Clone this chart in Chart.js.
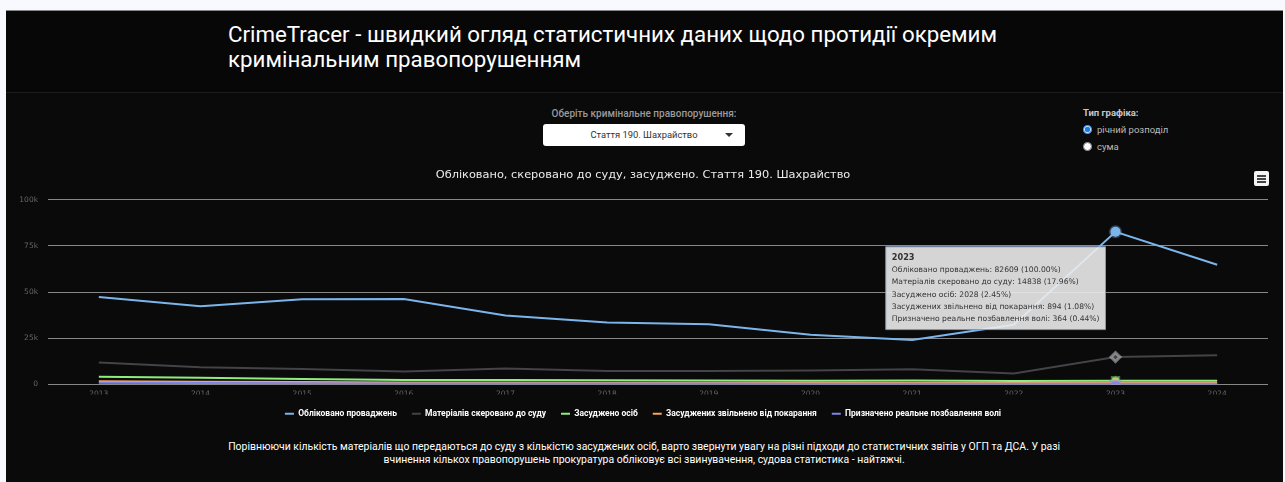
<!DOCTYPE html>
<html lang="uk">
<head>
<meta charset="utf-8">
<title>CrimeTracer</title>
<script src="https://cdn.jsdelivr.net/npm/chart.js@4.4.1/dist/chart.umd.min.js"></script>
<style>
    html, body { margin: 0; padding: 0; }
    body {
        width: 1285px; height: 482px; overflow: hidden;
        background: #f8f8ff; position: relative;
        font-family: Roboto, "Noto Sans", sans-serif;
    }
    .page {
        position: absolute; left: 6px; top: 10px; right: 2px; bottom: 0;
        background: #0a0a0a; border-top: 1px solid #888;
    }
    .header {
        position: absolute; left: 0; top: 0; right: 0; height: 81px;
        background: #070707; border-bottom: 1px solid #1c1c1c;
    }
    .header h1 {
        position: absolute; left: 222px; top: 11px; margin: 0;
        font-weight: 400; font-size: 22.3px; line-height: 25px; color: #fff;
        white-space: nowrap;
    }
    .select-block {
        position: absolute; left: 537px; top: 97px; width: 202px; text-align: center;
    }
    .select-block .lbl {
        font-size: 10px; font-weight: 500; color: #9a9a9a; white-space: nowrap;
    }
    .select-box {
        margin-top: 5px; height: 22px; background: #fff; border-radius: 3px;
        font-size: 9.4px; color: #333; line-height: 22px; position: relative;
    }
    .select-box .caret {
        position: absolute; right: 12px; top: 9px; width: 0; height: 0;
        border-left: 4px solid transparent; border-right: 4px solid transparent;
        border-top: 4px solid #333;
    }
    .radio-block {
        position: absolute; left: 1077px; top: 96px; font-size: 9.5px; color: #bbb;
    }
    .radio-block .ttl { font-weight: 700; color: #c8c8c8; margin-bottom: 3px; }
    .radio-block label { display: flex; align-items: center; height: 17px; }
    .radio-block input {
        margin: 0 5px 0 0; width: 9px; height: 9px; accent-color: #1a7fe6;
    }
    .menu-btn {
        position: absolute; left: 1248px; top: 160px; width: 15px; height: 15px;
        background: #f4f4f4; border-radius: 2px;
    }
    .menu-btn i {
        position: absolute; left: 3px; right: 3px; height: 1.5px; background: #444;
    }
    .chart-wrap {
        position: absolute; left: 0; top: 152px; width: 1274px; height: 265px;
    }
    .note {
        position: absolute; left: 0; right: 0; top: 429px; text-align: center;
    }
    .note span {
        display: inline-block; transform: scaleX(0.908); transform-origin: center top;
        font-size: 11.5px; line-height: 13px; color: #fff; white-space: nowrap;
    }
</style>
</head>
<body>
<div class="page">
    <div class="header">
        <h1>CrimeTracer - швидкий огляд статистичних даних щодо протидії окремим<br>кримінальним правопорушенням</h1>
    </div>

    <div class="select-block">
        <div class="lbl">Оберіть кримінальне правопорушення:</div>
        <div class="select-box">Стаття 190. Шахрайство<span class="caret"></span></div>
    </div>

    <div class="radio-block">
        <div class="ttl">Тип графіка:</div>
        <label><input type="radio" name="t" checked>річний розподіл</label>
        <label><input type="radio" name="t">сума</label>
    </div>

    <div class="chart-wrap"><canvas id="crimeChart"></canvas></div>
    <div class="menu-btn"><i style="top:4px"></i><i style="top:7px"></i><i style="top:10px"></i></div>

    <div class="note"><span>Порівнюючи кількість матеріалів що передаються до суду з кількістю засуджених осіб, варто звернути увагу на різні підходи до статистичних звітів у ОГП та ДСА. У разі<br>вчинення кількох правопорушень прокуратура обліковує всі звинувачення, судова статистика - найтяжчі.</span></div>
</div>

<script>
// Дані графіка
const years = [2013, 2014, 2015, 2016, 2017, 2018, 2019, 2020, 2021, 2022, 2023, 2024];
const seriesNames = [
    'Обліковано проваджень',
    'Матеріалів скеровано до суду',
    'Засуджено осіб',
    'Засуджених звільнено від покарання',
    'Призначено реальне позбавлення волі'
];
const registered = [47300, 42300, 46100, 46200, 37300, 33600, 32600, 26900, 24100, 32300, 82609, 64800];
const sentToCourt = [11900, 9300, 8400, 7000, 8700, 7300, 7300, 7600, 8200, 6000, 14838, 15800];
const convicted = [4200, 3700, 3000, 2500, 2400, 2300, 2200, 2000, 2100, 1900, 2028, 2000];
const released = [1700, 1500, 1300, 1100, 1050, 1000, 950, 900, 950, 850, 894, 900];
const imprisoned = [900, 800, 700, 600, 550, 500, 480, 420, 400, 380, 364, 380];
const yTicks = [0, 25000, 50000, 75000, 100000];
const hoverYear = 2023;

const colors = ['#7cb5ec', '#434348', '#90ed7d', '#f7a35c', '#8085e9'];
const halos = ['rgba(124,181,236,0.35)', 'rgba(200,200,200,0.55)', 'rgba(144,237,125,0.45)', 'rgba(247,163,92,0.45)', 'rgba(128,133,233,0.45)'];
const styles = ['circle', 'rectRot', 'rect', 'triangle', 'triangle'];
const rotations = [0, 0, 0, 0, 180];
const allSeries = [registered, sentToCourt, convicted, released, imprisoned];

// Підказка біля першої точки
Chart.Tooltip.positioners.firstPoint = function (items) {
    if (!items.length) return false;
    const el = items[0].element;
    return { x: el.x - 10, y: el.y };
};

function buildDatasets() {
    return allSeries.map((values, i) => ({
        label: seriesNames[i],
        data: values.map((v, j) => ({ x: years[j], y: v })),
        borderColor: colors[i],
        backgroundColor: colors[i],
        borderWidth: 2,
        tension: 0,
        pointRadius: 0,
        pointHoverRadius: i === 0 ? 5 : 4.5,
        pointStyle: styles[i],
        rotation: rotations[i],
        pointHoverBackgroundColor: colors[i],
        pointHoverBorderColor: halos[i],
        pointHoverBorderWidth: 3,
        order: allSeries.length - 1 - i
    }));
}

// Легенда: тонкі лінії замість квадратів
function legendLabels(chart) {
    const items = Chart.defaults.plugins.legend.labels.generateLabels(chart);
    items.forEach(item => { item.lineWidth = 0; });
    return items;
}

function setupChart() {
    const ctx = document.getElementById('crimeChart');
    const chart = new Chart(ctx, {
        type: 'line',
        data: { datasets: buildDatasets() },
        options: {
            responsive: true,
            maintainAspectRatio: false,
            animation: false,
            events: [],
            layout: { padding: { left: 12, right: 12, top: 0, bottom: 0 } },
            scales: {
                x: {
                    type: 'linear',
                    min: 2012.5,
                    max: 2024.5,
                    afterBuildTicks: axis => { axis.ticks = years.map(v => ({ value: v })); },
                    afterFit: scale => { scale.height = 10; },
                    grid: { display: false, drawTicks: false },
                    border: { display: false },
                    ticks: {
                        color: '#666',
                        font: { family: 'DejaVu Sans', size: 7.5 },
                        padding: 5,
                        maxRotation: 0,
                        autoSkip: false,
                        callback: v => String(v)
                    }
                },
                y: {
                    min: 0,
                    max: 100000,
                    afterBuildTicks: axis => { axis.ticks = yTicks.map(v => ({ value: v })); },
                    afterFit: scale => { scale.width = 30; },
                    grid: { color: '#888', lineWidth: 1, drawTicks: false },
                    border: { display: false },
                    ticks: {
                        color: '#666',
                        font: { family: 'DejaVu Sans', size: 7.5 },
                        padding: 10,
                        callback: v => v === 0 ? '0' : (v / 1000) + 'k'
                    }
                }
            },
            plugins: {
                title: {
                    display: true,
                    text: 'Обліковано, скеровано до суду, засуджено. Стаття 190. Шахрайство',
                    color: '#ececec',
                    font: { family: 'DejaVu Sans', size: 11.35, weight: 'normal' },
                    padding: { top: 5, bottom: 18 }
                },
                legend: {
                    position: 'bottom',
                    labels: {
                        sort: (a, b) => a.datasetIndex - b.datasetIndex,
                        generateLabels: legendLabels,
                        color: '#fff',
                        font: { family: 'Roboto', size: 8.5, weight: 'bold' },
                        boxWidth: 9,
                        boxHeight: 2,
                        padding: 15
                    }
                },
                tooltip: {
                    position: 'firstPoint',
                    xAlign: 'right',
                    yAlign: 'top',
                    caretSize: 0,
                    caretPadding: 15,
                    cornerRadius: 0,
                    displayColors: false,
                    backgroundColor: 'rgba(235,235,235,0.9)',
                    borderColor: '#7b98b8',
                    borderWidth: 1,
                    titleColor: '#333',
                    bodyColor: '#333',
                    titleFont: { family: 'DejaVu Sans', size: 8.2, weight: 'bold' },
                    bodyFont: { family: 'DejaVu Sans', size: 7.6 },
                    titleMarginBottom: 3,
                    bodySpacing: 3.1,
                    padding: { top: 6, bottom: 6, left: 6, right: 6 },
                    itemSort: (a, b) => a.datasetIndex - b.datasetIndex,
                    callbacks: {
                        title: items => String(items[0].parsed.x),
                        label: item => {
                            const base = registered[item.dataIndex];
                            const v = item.parsed.y;
                            return `${item.dataset.label}: ${v} (${(v / base * 100).toFixed(2)}%)`;
                        }
                    }
                }
            }
        }
    });

    // Показати підказку для обраного року
    const idx = years.indexOf(hoverYear);
    const active = allSeries.map((_, i) => ({ datasetIndex: i, index: idx }));
    chart.setActiveElements(active);
    chart.tooltip.setActiveElements(active, { x: 0, y: 0 });
    chart.update();
}

document.addEventListener('DOMContentLoaded', setupChart);
</script>
</body>
</html>
